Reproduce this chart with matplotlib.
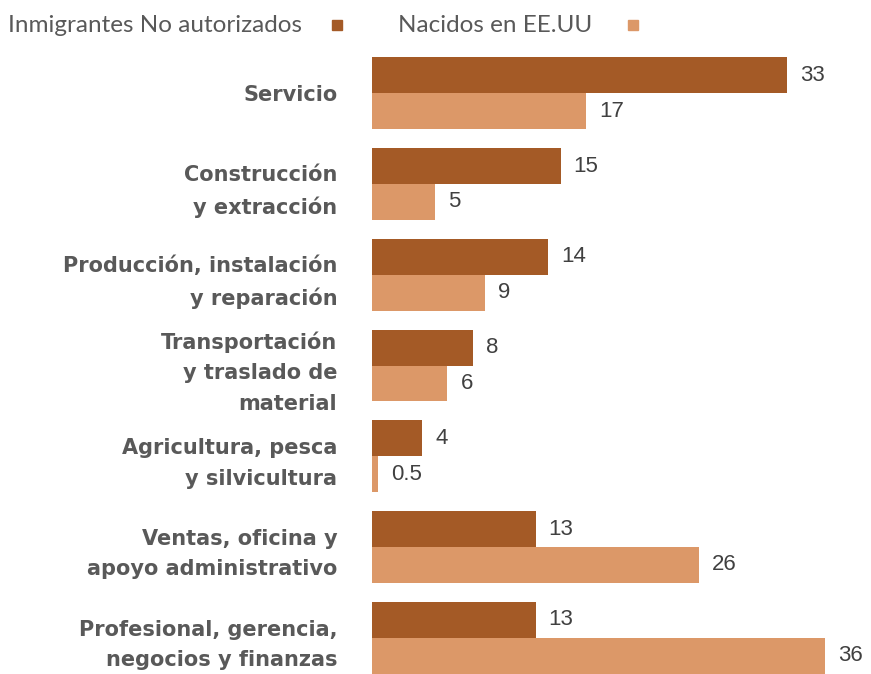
import matplotlib.pyplot as plt
from matplotlib.patches import Rectangle

categorias = ['Servicio', 'Construcción\ny extracción', 'Producción, instalación\ny reparación',
              'Transportación\ny traslado de\nmaterial', 'Agricultura, pesca\ny silvicultura',
              'Ventas, oficina y\napoyo administrativo', 'Profesional, gerencia,\nnegocios y finanzas']
no_autorizados = [33, 15, 14, 8, 4, 13, 13]
nacidos_eeuu = [17, 5, 9, 6, 0.5, 26, 36]
etq_no_aut = ['33', '15', '14', '8', '4', '13', '13']
etq_nacidos = ['17', '5', '9', '6', '0.5', '26', '36']

c_osc = '#A45A26'
c_cla = '#DC9868'
gris = '#595959'

fig = plt.figure(figsize=(8.71, 6.74), dpi=100)
ax = fig.add_axes([372 / 871, 0, 1 - 372 / 871, 1 - 57 / 674])

y = list(range(len(categorias)))
h = 0.395
ax.barh([v - h / 2 for v in y], no_autorizados, height=h, color=c_osc)
ax.barh([v + h / 2 for v in y], nacidos_eeuu, height=h, color=c_cla)

px = 12.58  # pixels per unit
for i in y:
    ax.text(no_autorizados[i] + 13 / px, i - h / 2, etq_no_aut[i], va='center', ha='left',
            fontsize=16, color='#404040', family='Liberation Sans')
    ax.text(nacidos_eeuu[i] + 13 / px, i + h / 2, etq_nacidos[i], va='center', ha='left',
            fontsize=16, color='#404040', family='Liberation Sans')

ax.set_xlim(0, 499 / px)
ax.set_ylim(6.4, -0.4)
ax.set_yticks(y)
ax.set_yticklabels(categorias, fontsize=15, fontweight='bold', color=gris, family='DejaVu Sans',
                   linespacing=1.65)
ax.tick_params(axis='y', length=0, pad=25)
ax.set_xticks([])
for s in ax.spines.values():
    s.set_visible(False)

# leyenda
fig.text(8 / 871, 1 - 25 / 674, 'Inmigrantes No autorizados', fontsize=17.5, color=gris,
         family='Lato', va='center', ha='left')
fig.text(398 / 871, 1 - 25 / 674, 'Nacidos en EE.UU', fontsize=17.5, color=gris,
         family='Lato', va='center', ha='left')
fig.patches.append(Rectangle((332 / 871, 1 - 30 / 674), 10 / 871, 10 / 674, color=c_osc,
                             transform=fig.transFigure, figure=fig))
fig.patches.append(Rectangle((628 / 871, 1 - 30 / 674), 10 / 871, 10 / 674, color=c_cla,
                             transform=fig.transFigure, figure=fig))

fig.savefig('out.png', dpi=100)
